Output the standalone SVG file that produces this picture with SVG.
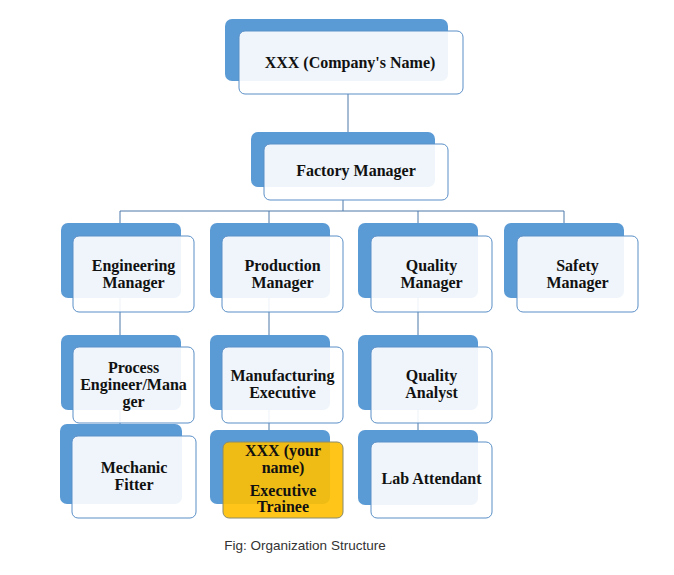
<svg xmlns="http://www.w3.org/2000/svg" width="674" height="575" viewBox="0 0 674 575">
<style>
.bk{fill:#5b9bd5;}
.fr{fill:#ffffff;fill-opacity:0.9;stroke:#5b8fc7;stroke-width:1;}
.hl{fill:#ffc000;fill-opacity:0.9;stroke:#8a8a6a;stroke-width:1;}
.t{font-family:"Liberation Serif","Times New Roman",serif;font-weight:bold;font-size:16px;fill:#111;text-anchor:middle;}
.c{stroke:#4a78a8;stroke-width:1;fill:none;}
.cap{font-family:"Liberation Sans",Arial,sans-serif;font-size:13.5px;fill:#333;text-anchor:middle;}
</style>
<rect width="674" height="575" fill="#ffffff"/>
<g id="connectors">
<path class="c" d="M348,94V132 M343,200V211 M120,211H564 M120,211V424 M269,211V430 M418,211V430 M564,211V223"/>
</g>
<g id="company">
<rect class="bk" x="225" y="19" width="223" height="62" rx="7"/>
<rect class="fr" x="239" y="31" width="224" height="63" rx="6"/>
<text class="t" x="350" y="68" font-size="17">XXX (Company's Name)</text>
</g>
<g id="factory">
<rect class="bk" x="251" y="132" width="184" height="55" rx="7"/>
<rect class="fr" x="264" y="144" width="184" height="56" rx="6"/>
<text class="t" x="356" y="176">Factory Manager</text>
</g>
<g id="engineering">
<rect class="bk" x="61" y="223" width="120" height="75" rx="7"/>
<rect class="fr" x="73" y="236" width="121" height="76" rx="6"/>
<text class="t" x="133.5" y="271">Engineering</text>
<text class="t" x="133.5" y="288">Manager</text>
</g>
<g id="production">
<rect class="bk" x="210" y="223" width="120" height="75" rx="7"/>
<rect class="fr" x="222" y="236" width="121" height="76" rx="6"/>
<text class="t" x="282.5" y="271">Production</text>
<text class="t" x="282.5" y="288">Manager</text>
</g>
<g id="quality">
<rect class="bk" x="358" y="223" width="120" height="75" rx="7"/>
<rect class="fr" x="371" y="236" width="121" height="76" rx="6"/>
<text class="t" x="431.5" y="271">Quality</text>
<text class="t" x="431.5" y="288">Manager</text>
</g>
<g id="safety">
<rect class="bk" x="504" y="223" width="120" height="75" rx="7"/>
<rect class="fr" x="517" y="236" width="121" height="76" rx="6"/>
<text class="t" x="577.5" y="271">Safety</text>
<text class="t" x="577.5" y="288">Manager</text>
</g>
<g id="process">
<rect class="bk" x="61" y="335" width="120" height="75" rx="7"/>
<rect class="fr" x="73" y="347" width="121" height="76" rx="6"/>
<text class="t" x="133.5" y="373">Process</text>
<text class="t" x="133.5" y="390">Engineer/Mana</text>
<text class="t" x="133.5" y="407">ger</text>
</g>
<g id="manufacturing">
<rect class="bk" x="210" y="335" width="120" height="75" rx="7"/>
<rect class="fr" x="222" y="347" width="121" height="76" rx="6"/>
<text class="t" x="282.5" y="381">Manufacturing</text>
<text class="t" x="282.5" y="398">Executive</text>
</g>
<g id="analyst">
<rect class="bk" x="358" y="335" width="120" height="75" rx="7"/>
<rect class="fr" x="371" y="347" width="121" height="76" rx="6"/>
<text class="t" x="431.5" y="381">Quality</text>
<text class="t" x="431.5" y="398">Analyst</text>
</g>
<g id="mechanic">
<rect class="bk" x="60" y="424" width="122" height="80" rx="7"/>
<rect class="fr" x="72" y="436" width="124" height="82" rx="6"/>
<text class="t" x="134" y="473">Mechanic</text>
<text class="t" x="134" y="490">Fitter</text>
</g>
<g id="trainee">
<rect class="bk" x="210" y="430" width="120" height="74" rx="7"/>
<rect class="hl" x="223" y="442" width="120" height="76" rx="6"/>
<text class="t" x="283" y="456">XXX (your</text>
<text class="t" x="283" y="473">name)</text>
<text class="t" x="283" y="496">Executive</text>
<text class="t" x="283" y="512">Trainee</text>
</g>
<g id="lab">
<rect class="bk" x="358" y="430" width="120" height="75" rx="7"/>
<rect class="fr" x="371" y="442" width="121" height="76" rx="6"/>
<text class="t" x="431.5" y="484">Lab Attendant</text>
</g>
<text class="cap" x="305" y="550">Fig: Organization Structure</text>
</svg>
